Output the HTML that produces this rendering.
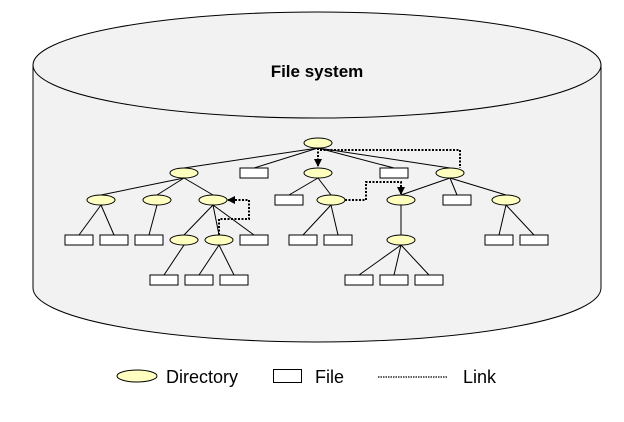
<!DOCTYPE html>
<html><head><meta charset="utf-8"><style>
html,body{margin:0;padding:0;background:#fff;}
svg{display:block;}
text{font-family:"Liberation Sans",sans-serif;}
</style></head><body>
<svg width="624" height="422" viewBox="0 0 624 422" xmlns="http://www.w3.org/2000/svg">
<defs>
<marker id="ah" markerWidth="8" markerHeight="8" refX="7" refY="4" orient="auto" markerUnits="userSpaceOnUse">
<path d="M0,0 L8,4 L0,8 z" fill="#000"/>
</marker>
</defs>
<path d="M33,65 L33,288 A284,54 0 0 0 601,288 L601,65 Z" fill="#f2f2f2" stroke="#000" stroke-width="1"/>
<ellipse cx="317" cy="65" rx="284" ry="53" fill="#f2f2f2" stroke="#000" stroke-width="1"/>
<text x="317" y="77" text-anchor="middle" font-size="17" font-weight="bold">File system</text>

<g stroke="#000" stroke-width="1" fill="none">
<line x1="318" y1="148" x2="184" y2="168"/>
<line x1="318" y1="148" x2="254" y2="168"/>
<line x1="318" y1="148" x2="394" y2="168"/>
<line x1="318" y1="148" x2="450" y2="168"/>
<line x1="184" y1="178" x2="101" y2="195"/>
<line x1="184" y1="178" x2="157" y2="195"/>
<line x1="184" y1="178" x2="213" y2="195"/>
<line x1="101" y1="205" x2="79" y2="235"/>
<line x1="101" y1="205" x2="114" y2="235"/>
<line x1="157" y1="205" x2="149" y2="235"/>
<line x1="213" y1="205" x2="184" y2="235"/>
<line x1="213" y1="205" x2="219" y2="235"/>
<line x1="213" y1="205" x2="254" y2="235"/>
<line x1="184" y1="245" x2="164" y2="275"/>
<line x1="219" y1="245" x2="199" y2="275"/>
<line x1="219" y1="245" x2="234" y2="275"/>
<line x1="318" y1="178" x2="289" y2="195"/>
<line x1="318" y1="178" x2="331" y2="195"/>
<line x1="331" y1="205" x2="303" y2="235"/>
<line x1="331" y1="205" x2="338" y2="235"/>
<line x1="450" y1="178" x2="401" y2="195"/>
<line x1="450" y1="178" x2="457" y2="195"/>
<line x1="450" y1="178" x2="506" y2="195"/>
<line x1="401" y1="205" x2="401" y2="235"/>
<line x1="401" y1="245" x2="359" y2="275"/>
<line x1="401" y1="245" x2="394" y2="275"/>
<line x1="401" y1="245" x2="429" y2="275"/>
<line x1="506" y1="205" x2="499" y2="235"/>
<line x1="506" y1="205" x2="534" y2="235"/>
</g>
<g stroke="#000" stroke-width="2" stroke-dasharray="2,1.5" fill="none">
<path d="M318,148 L318,166" marker-end="url(#ah)"/>
<path d="M320,150 L460,150 L460,168"/>
<path d="M345,200 L366,200 L366,182 L401,182 L401,194" marker-end="url(#ah)"/>
<path d="M219,235 L219,219 L249,219 L249,200 L228,200" marker-end="url(#ah)"/>
</g>

<g fill="#ffffc0" stroke="#000" stroke-width="1">
<ellipse cx="318" cy="143" rx="14" ry="5"/>
<ellipse cx="184" cy="173" rx="14" ry="5"/>
<ellipse cx="318" cy="173" rx="14" ry="5"/>
<ellipse cx="450" cy="173" rx="14" ry="5"/>
<ellipse cx="101" cy="200" rx="14" ry="5"/>
<ellipse cx="157" cy="200" rx="14" ry="5"/>
<ellipse cx="213" cy="200" rx="14" ry="5"/>
<ellipse cx="331" cy="200" rx="14" ry="5"/>
<ellipse cx="401" cy="200" rx="14" ry="5"/>
<ellipse cx="506" cy="200" rx="14" ry="5"/>
<ellipse cx="184" cy="240" rx="14" ry="5"/>
<ellipse cx="219" cy="240" rx="14" ry="5"/>
<ellipse cx="401" cy="240" rx="14" ry="5"/>
</g>
<g fill="#fff" stroke="#000" stroke-width="1">
<rect x="240" y="168" width="28" height="10"/>
<rect x="380" y="168" width="28" height="10"/>
<rect x="275" y="195" width="28" height="10"/>
<rect x="443" y="195" width="28" height="10"/>
<rect x="65" y="235" width="28" height="10"/>
<rect x="100" y="235" width="28" height="10"/>
<rect x="135" y="235" width="28" height="10"/>
<rect x="240" y="235" width="28" height="10"/>
<rect x="289" y="235" width="28" height="10"/>
<rect x="324" y="235" width="28" height="10"/>
<rect x="485" y="235" width="28" height="10"/>
<rect x="520" y="235" width="28" height="10"/>
<rect x="150" y="275" width="28" height="10"/>
<rect x="185" y="275" width="28" height="10"/>
<rect x="220" y="275" width="28" height="10"/>
<rect x="345" y="275" width="28" height="10"/>
<rect x="380" y="275" width="28" height="10"/>
<rect x="415" y="275" width="28" height="10"/>
</g>

<ellipse cx="137" cy="376" rx="20" ry="6" fill="#ffffc0" stroke="#000"/>
<text x="166" y="383" font-size="18">Directory</text>
<rect x="273.5" y="369.5" width="28" height="13" fill="#fff" stroke="#000"/>
<text x="315" y="383" font-size="18">File</text>
<line x1="378" y1="377" x2="447" y2="377" stroke="#000" stroke-width="1.2" stroke-dasharray="1.5,1"/>
<text x="463" y="383" font-size="18">Link</text>
</svg>
</body></html>
